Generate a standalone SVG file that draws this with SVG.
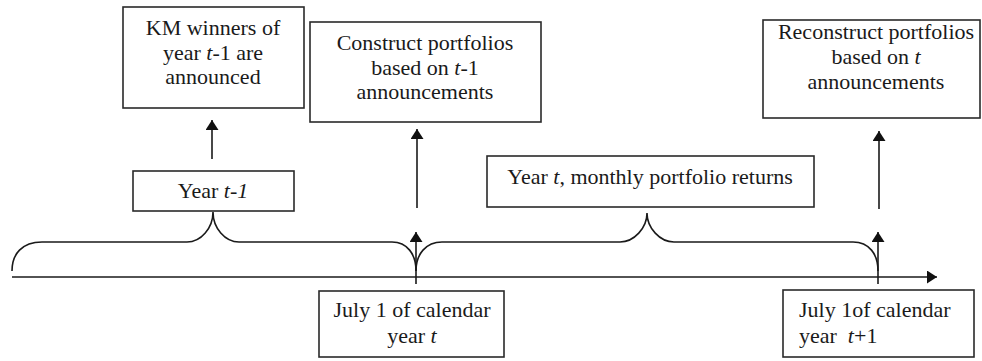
<svg xmlns="http://www.w3.org/2000/svg" width="982" height="361" viewBox="0 0 982 361">
<style>
.box{fill:#fff;stroke:#2a2a2a;stroke-width:1.6}
.t{font-family:"Liberation Serif","Times New Roman",serif;font-size:22px;fill:#1a1a1a}
.c{text-anchor:middle}
.i{font-style:italic}
.ln{fill:none;stroke:#1a1a1a;stroke-width:1.6}
</style>
<defs>
<marker id="ah" viewBox="0 0 10 13" refX="10" refY="6.5" markerWidth="10" markerHeight="13" markerUnits="userSpaceOnUse" orient="auto">
<path d="M0,0 L10,6.5 L0,13 Z" fill="#111"/>
</marker>
</defs>
<rect width="982" height="361" fill="#fff"/>
<g id="connectors">
<path class="ln" d="M12,277 L937,277" marker-end="url(#ah)"/>
<path class="ln" d="M12,271 C12,254 22,242 42,242 L187,242 C201,242 213,228 213,212 C213,228 225,242 239,242 L392,242 C407,242 416,254 416,271"/>
<path class="ln" d="M416,271 C416,254 426,242 442,242 L620,242 C634,242 647,228 647,213 C647,228 660,242 674,242 L853,242 C869,242 878,254 878,271"/>
<path class="ln" d="M212,159 L212,120" marker-end="url(#ah)"/>
<path class="ln" d="M417,208 L417,129" marker-end="url(#ah)"/>
<path class="ln" d="M879,209 L879,131" marker-end="url(#ah)"/>
<path class="ln" d="M416,284 L416,232" marker-end="url(#ah)"/>
<path class="ln" d="M878,284 L878,232" marker-end="url(#ah)"/>
</g>
<g id="km">
<rect class="box" x="123" y="7" width="181" height="101"/>
<text class="t c" x="213" y="35">KM winners of</text>
<text class="t c" x="213" y="60">year <tspan class="i">t</tspan>-1 are</text>
<text class="t c" x="213" y="84">announced</text>
</g>
<g id="construct">
<rect class="box" x="310" y="22" width="231" height="100"/>
<text class="t c" x="425" y="50">Construct portfolios</text>
<text class="t c" x="425" y="75">based on <tspan class="i">t</tspan>-1</text>
<text class="t c" x="425" y="99">announcements</text>
</g>
<g id="reconstruct">
<rect class="box" x="763" y="20" width="217" height="98"/>
<text class="t c" x="876" y="39">Reconstruct portfolios</text>
<text class="t c" x="876" y="64">based on <tspan class="i">t</tspan></text>
<text class="t c" x="876" y="89">announcements</text>
</g>
<g id="year-t-1">
<rect class="box" x="133" y="171" width="161" height="40"/>
<text class="t c" x="213" y="198">Year <tspan class="i">t-1</tspan></text>
</g>
<g id="year-t">
<rect class="box" x="487" y="156" width="327" height="51"/>
<text class="t c" x="650" y="184">Year <tspan class="i">t</tspan>, monthly portfolio returns</text>
</g>
<g id="july-t">
<rect class="box" x="319" y="291" width="185" height="66"/>
<text class="t c" x="412" y="317">July 1 of calendar</text>
<text class="t c" x="412" y="343">year <tspan class="i">t</tspan></text>
</g>
<g id="july-t1">
<rect class="box" x="783" y="290" width="191" height="67"/>
<text class="t" x="799" y="317">July 1of calendar</text>
<text class="t" x="799" y="343" xml:space="preserve">year  <tspan class="i">t</tspan>+1</text>
</g>
</svg>
